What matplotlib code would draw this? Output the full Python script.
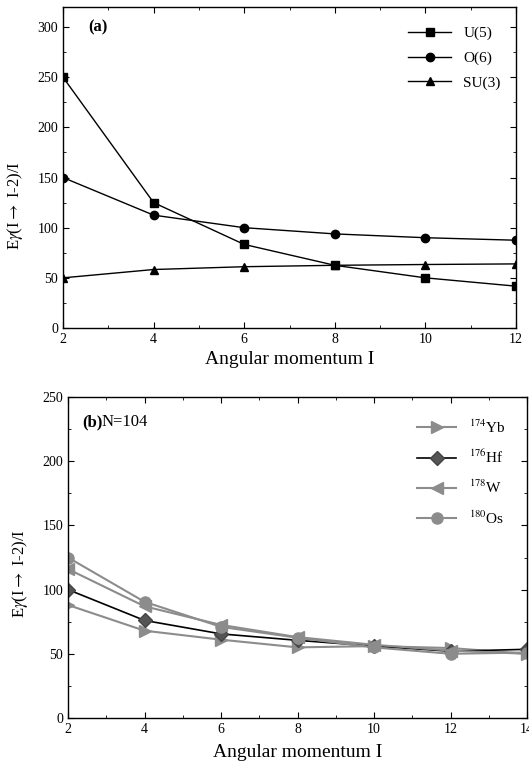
import matplotlib
matplotlib.use("Agg")
import matplotlib.pyplot as plt
from matplotlib.ticker import MultipleLocator

plt.rcParams['font.family'] = ['Liberation Serif', 'DejaVu Serif']
plt.rcParams['mathtext.fontset'] = 'stix'

# Panel (a)
I_a = [2, 4, 6, 8, 10, 12]
u5 = [250, 125, 83.3, 62.5, 50, 41.7]
o6 = [150, 112.5, 100, 93.8, 90, 87.5]
su3 = [50, 58.3, 61.1, 62.5, 63.3, 63.9]

# Panel (b)
I_b = [2, 4, 6, 8, 10, 12, 14]
yb174 = [88, 68, 61, 55, 56, 54.5, 50]
hf176 = [100, 76, 65.5, 60.5, 56, 52, 53.5]
w178 = [116, 87, 72.5, 63, 57, 52.5, 50]
os180 = [125, 90.5, 71, 62.5, 55, 50, 51]

fig = plt.figure(figsize=(5.29, 7.67), dpi=100)
W, H = 529, 767

def px_axes(l, t, r, b):
    return fig.add_axes([l / W, (H - b) / H, (r - l) / W, (b - t) / H])

ax1 = px_axes(63, 7, 516, 328)
ax2 = px_axes(68, 397, 527, 718)

ylab = r'E$\gamma$(I$\rightarrow$ I-2)/I'

# ---- panel a
ax1.plot(I_a, u5, '-s', color='black', lw=1, ms=6, label='U(5)')
ax1.plot(I_a, o6, '-o', color='black', lw=1, ms=6, label='O(6)')
ax1.plot(I_a, su3, '-^', color='black', lw=1, ms=6, label='SU(3)')
ax1.set_xlim(2, 12)
ax1.set_ylim(0, 320)
ax1.xaxis.set_major_locator(MultipleLocator(2))
ax1.xaxis.set_minor_locator(MultipleLocator(1))
ax1.yaxis.set_minor_locator(MultipleLocator(25))
ax1.set_yticks([0, 50, 100, 150, 200, 250, 300])
ax1.set_xlabel('Angular momentum I', fontsize=14, labelpad=4)
ax1.set_ylabel(ylab, fontsize=12)
ax1.yaxis.set_label_coords(-0.083, 0.38)
ax1.text(0.055, 0.935, '(a)', transform=ax1.transAxes, fontsize=12,
         fontweight='bold', va='center')
ax1.legend(loc='upper right', frameon=False, fontsize=11, handlelength=2.8,
           bbox_to_anchor=(1.0, 0.9875), borderaxespad=0.6, labelspacing=0.72)

# ---- panel b
grey = '#8c8c8c'
ax2.plot(I_b, yb174, '->', color=grey, lw=1.5, ms=8, label=r'$^{174}$Yb')
ax2.plot(I_b, hf176, '-D', color='black', mfc='#555555', mec='#444444', lw=1.2, ms=7,
         label=r'$^{176}$Hf')
ax2.plot(I_b, w178, '-<', color=grey, lw=1.5, ms=8, label=r'$^{178}$W')
ax2.plot(I_b, os180, '-o', color=grey, lw=1.5, ms=8, label=r'$^{180}$Os')
ax2.set_xlim(2, 14)
ax2.set_ylim(0, 250)
ax2.xaxis.set_major_locator(MultipleLocator(2))
ax2.xaxis.set_minor_locator(MultipleLocator(1))
ax2.yaxis.set_major_locator(MultipleLocator(50))
ax2.yaxis.set_minor_locator(MultipleLocator(25))
ax2.set_xlabel('Angular momentum I', fontsize=14, labelpad=6)
ax2.set_ylabel(ylab, fontsize=12)
ax2.yaxis.set_label_coords(-0.083, 0.45)
ax2.text(0.03, 0.922, '(b)', transform=ax2.transAxes, fontsize=12,
         fontweight='bold', va='center')
ax2.text(0.073, 0.922, 'N=104', transform=ax2.transAxes, fontsize=12, va='center')
ax2.legend(loc='upper right', frameon=False, fontsize=11, handlelength=2.6,
           borderaxespad=1.0, labelspacing=0.85)

for ax in (ax1, ax2):
    ax.tick_params(which='both', direction='in', top=True, right=True, labelsize=10)
    ax.tick_params(which='major', length=4)
    ax.tick_params(which='minor', length=2)
    for s in ax.spines.values():
        s.set_linewidth(1.0)

fig.savefig('out.png', dpi=100)
